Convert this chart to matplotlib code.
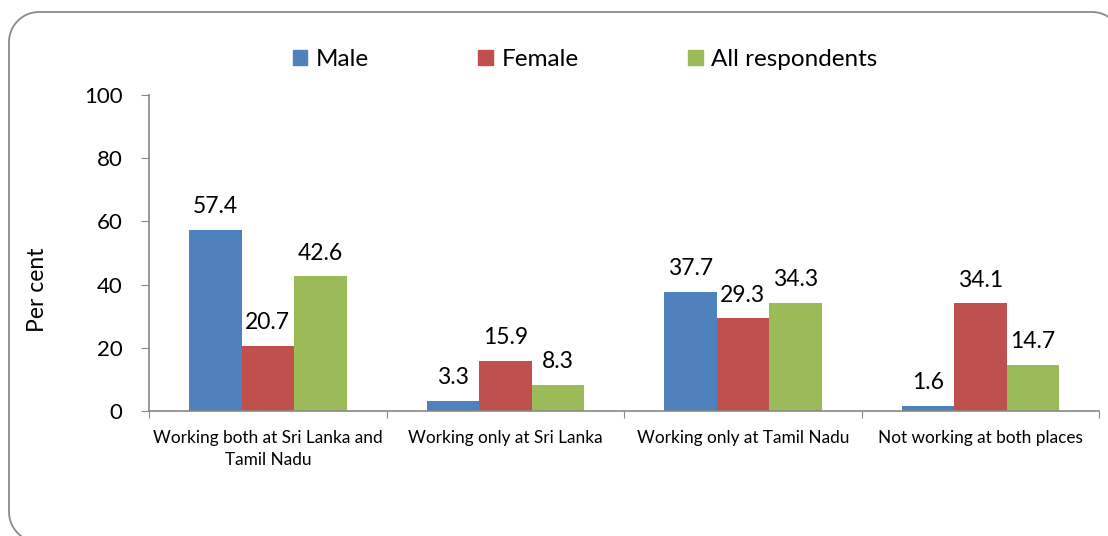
import matplotlib
matplotlib.use("Agg")
import matplotlib.pyplot as plt
from matplotlib.patches import PathPatch
from matplotlib.path import Path
from matplotlib.patches import Patch
from matplotlib.transforms import IdentityTransform
import numpy as np

plt.rcParams['font.family'] = ['Lato', 'DejaVu Sans']

categories = ["Working both at Sri Lanka and\nTamil Nadu", "Working only at Sri Lanka",
              "Working only at Tamil Nadu", "Not working at both places"]
series_names = ["Male", "Female", "All respondents"]
male = [57.4, 3.3, 37.7, 1.6]
female = [20.7, 15.9, 29.3, 34.1]
all_resp = [42.6, 8.3, 34.3, 14.7]
colors = ["#4F81BD", "#C0504D", "#9BBB59"]
yticks = [0, 20, 40, 60, 80, 100]

fig = plt.figure(figsize=(11.08, 5.36), dpi=100)
ax = fig.add_axes([0.1345, 0.2332, 0.8575, 0.5896])

# rounded border in pixel coordinates (origin bottom-left), built from arcs
def rounded_rect_path(x0, y0, x1, y1, r, n=16):
    pts = []
    def arc(cx, cy, a0, a1):
        for t in np.linspace(a0, a1, n):
            pts.append((cx + r * np.cos(t), cy + r * np.sin(t)))
    arc(x0 + r, y1 - r, np.pi / 2, np.pi)          # top-left
    arc(x0 + r, y0 + r, np.pi, 1.5 * np.pi)        # bottom-left
    arc(x1 - r, y0 + r, 1.5 * np.pi, 2 * np.pi)    # bottom-right
    arc(x1 - r, y1 - r, 0, np.pi / 2)              # top-right
    pts.append(pts[0])
    return Path(pts)

H = 536
border = PathPatch(rounded_rect_path(9, H - 542, 1122, H - 12, 30),
                   transform=IdentityTransform(), fill=False, edgecolor="#8a8a8a",
                   linewidth=1.3, clip_on=False)
fig.patches.append(border)

x = np.arange(len(categories))
w = 0.221
for i, (vals, c) in enumerate(zip([male, female, all_resp], colors)):
    pos = x + (i - 1) * w
    ax.bar(pos, vals, width=w, color=c, label=series_names[i], zorder=2)
    for p, v in zip(pos, vals):
        ax.annotate(f"{v}", (p, v), xytext=(0, 9), textcoords="offset points",
                    ha="center", va="bottom", fontsize=16.5)

ax.set_xlim(-0.5, 3.5)
ax.set_ylim(0, 100)
ax.set_yticks(yticks)
ax.set_xticks(np.arange(-0.5, 4.0, 1.0), minor=False)
ax.set_xticklabels([])
ax.set_xticks(x, minor=True)
ax.set_xticklabels(categories, minor=True, fontsize=12.4, linespacing=1.45)
ax.tick_params(axis='x', which='minor', length=0, pad=14)
ax.tick_params(axis='x', which='major', direction='out', length=5, color='#888888')
ax.tick_params(axis='y', labelsize=16, length=6, color='#888888', pad=13)
for s in ['top', 'right']:
    ax.spines[s].set_visible(False)
for s in ['left', 'bottom']:
    ax.spines[s].set_color('#888888')
    ax.spines[s].set_linewidth(1.2)
ax.set_ylabel("Per cent", fontsize=16.5)
ax.yaxis.set_label_coords(-0.106, 0.385)

handles = [Patch(color=c) for c in colors]
fig.legend(handles, series_names, loc='center', bbox_to_anchor=(0.528, 0.889), ncol=3,
           frameon=False, fontsize=17.5, handlelength=0.6, handleheight=0.6,
           handletextpad=0.35, columnspacing=4.5)

fig.savefig("out.png", dpi=100)
